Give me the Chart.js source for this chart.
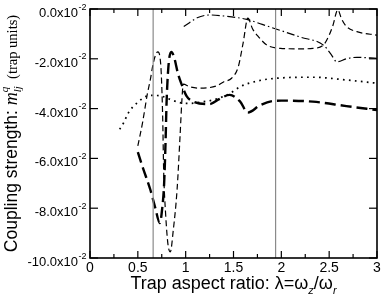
<!DOCTYPE html>
<html><head><meta charset="utf-8">
<script src="https://cdn.jsdelivr.net/npm/chart.js@4.4.1/dist/chart.umd.min.js"></script>
<style>html,body{margin:0;padding:0;background:#fff;}canvas{display:block;}</style>
</head><body>
<canvas id="c" width="382" height="299"></canvas>
<script>
// values are in units of 10^-2 (trap units)
const dottedLambda = [0.31,0.35,0.40,0.45,0.50,0.55,0.60,0.66,0.75,0.85,0.95,1.04,1.15,1.29,1.39,1.46,1.57,1.74,1.95,2.33,2.68,3.00];
const dottedValues = [-4.83,-4.58,-4.18,-3.92,-3.75,-3.59,-3.49,-3.47,-3.50,-3.65,-3.77,-3.79,-3.74,-3.65,-3.52,-3.40,-3.12,-2.90,-2.78,-2.74,-2.85,-2.98];

const longDashLambda = [0.50,0.55,0.63,0.68,0.73,0.755,0.775,0.79,0.80,0.82,0.85,0.88,0.92,0.96,1.01,1.08,1.25,1.35,1.46,1.57,1.65,1.78,1.92,2.00,2.33,2.68,3.00];
const longDashValues = [-5.75,-6.35,-7.25,-7.95,-8.60,-8.00,-7.00,-5.30,-3.80,-2.30,-1.72,-1.95,-2.60,-3.05,-3.50,-3.72,-3.82,-3.62,-3.45,-3.72,-4.16,-3.86,-3.69,-3.68,-3.72,-3.90,-4.06];

const dashedLambda = [0.50,0.55,0.60,0.63,0.66,0.69,0.71,0.73,0.745,0.76,0.77,0.79,0.815,0.84,0.87,0.91,0.94,0.96,0.975,1.04,1.15,1.32,1.40,1.48,1.55,1.60,1.65,1.70,1.76,1.85,1.99,2.20,2.33,2.44,2.50,2.54,2.59,2.63,2.68,2.79,3.00];
const dashedValues = [-5.50,-4.55,-3.40,-2.85,-2.20,-1.80,-1.72,-1.90,-2.60,-4.40,-6.50,-8.20,-9.45,-9.75,-8.90,-7.27,-5.20,-3.70,-3.02,-3.12,-3.18,-3.09,-2.92,-2.78,-2.32,-1.38,-0.37,-0.80,-1.11,-1.45,-1.58,-1.60,-1.58,-1.45,-1.05,-0.65,-0.03,-0.40,-0.70,-0.91,-1.05];

const dashDotLambda = [0.98,1.04,1.12,1.25,1.40,1.64,1.80,1.99,2.20,2.44,2.52,2.58,2.68,2.79,3.00];
const dashDotValues = [-0.70,-0.55,-0.35,-0.24,-0.28,-0.42,-0.62,-0.86,-1.13,-1.45,-1.82,-2.12,-2.00,-1.94,-1.98];

const markerLambdas = [0.66, 1.94];

const xTickValues = [0,0.5,1,1.5,2,2.5,3];
const xTickLabels = ['0','0.5','1','1.5','2','2.5','3'];
const xMinorStep = 0.25;
const yTickValues = [0,-2,-4,-6,-8,-10];
const yTickLabels = ['0.0','-2.0','-4.0','-6.0','-8.0','-10.0'];
const yTickExponent = '-2';

function pts(xs, ys){ return xs.map((x,i)=>({x:x, y:ys[i]})); }

const SANS = '"Liberation Sans", Arial, sans-serif';
const SERIF = '"Liberation Serif", "Times New Roman", serif';

const datasets = [];
markerLambdas.forEach(m => {
  datasets.push({data: pts([m,m],[0,-10]), borderColor:'#8a8a8a', borderWidth:1.2, tension:0});
});
datasets.push({data: pts(dottedLambda, dottedValues), borderColor:'#000', borderWidth:1.7, borderDash:[1.7,4.3], cubicInterpolationMode:'monotone'});
datasets.push({data: pts(dashDotLambda, dashDotValues), borderColor:'#000', borderWidth:1.2, borderDash:[8,3,1.5,3], cubicInterpolationMode:'monotone'});
datasets.push({data: pts(dashedLambda, dashedValues), borderColor:'#000', borderWidth:1.2, borderDash:[6,3.5], cubicInterpolationMode:'monotone'});
datasets.push({data: pts(longDashLambda, longDashValues), borderColor:'#000', borderWidth:2.4, borderDash:[11,5], cubicInterpolationMode:'monotone'});

function line(ctx,x1,y1,x2,y2){ctx.beginPath();ctx.moveTo(x1,y1);ctx.lineTo(x2,y2);ctx.stroke();}

function drawParts(ctx, parts, startX, baseY){
  let x = startX;
  parts.forEach(p => {
    if (p.stack) {
      let w = 0;
      p.stack.forEach(s => { ctx.font = s.font; ctx.fillText(s.t, x, baseY + s.dy); w = Math.max(w, ctx.measureText(s.t).width); });
      x += w;
    } else {
      ctx.font = p.font; ctx.fillText(p.t, x, baseY + (p.dy||0)); x += ctx.measureText(p.t).width;
    }
  });
}
function measureParts(ctx, parts){
  let w = 0;
  parts.forEach(p => {
    if (p.stack) { let m=0; p.stack.forEach(s=>{ctx.font=s.font; m=Math.max(m, ctx.measureText(s.t).width);}); w+=m; }
    else { ctx.font=p.font; w += ctx.measureText(p.t).width; }
  });
  return w;
}

const framePlugin = {
  id: 'frameAxes',
  afterDraw(chart){
    const ctx = chart.ctx, a = chart.chartArea, xs = chart.scales.x, ys = chart.scales.y;
    ctx.save();
    ctx.strokeStyle = '#000'; ctx.fillStyle = '#000';
    ctx.lineWidth = 1.2;
    const nMinor = Math.round((xs.max - xs.min)/xMinorStep);
    for (let i=0;i<=nMinor;i++){
      const v = xs.min + i*xMinorStep;
      const px = xs.getPixelForValue(v);
      const major = xTickValues.some(t => Math.abs(t - v) < 1e-9);
      const L = major ? 7 : 4;
      line(ctx, px, a.bottom, px, a.bottom - L);
      line(ctx, px, a.top, px, a.top + L);
    }
    yTickValues.forEach(v => {
      const py = ys.getPixelForValue(v);
      line(ctx, a.left, py, a.left + 8, py);
      line(ctx, a.right, py, a.right - 8, py);
    });
    ctx.lineWidth = 1.6;
    ctx.strokeRect(a.left, a.top, a.right - a.left, a.bottom - a.top);

    ctx.textBaseline = 'alphabetic';
    ctx.textAlign = 'center';
    ctx.font = '14px ' + SANS;
    xTickValues.forEach((v,i) => {
      ctx.fillText(xTickLabels[i], xs.getPixelForValue(v), a.bottom + 14);
    });
    ctx.textAlign = 'left';
    const rightEdge = a.left - 4;
    yTickValues.forEach((v,i) => {
      const py = ys.getPixelForValue(v);
      const main = yTickLabels[i] + 'x10';
      ctx.font = '9px ' + SANS; const sw = ctx.measureText(yTickExponent).width;
      ctx.font = '13px ' + SANS; const mw = ctx.measureText(main).width;
      const x0 = rightEdge - sw - mw;
      ctx.fillText(main, x0, py + 8);
      ctx.font = '9px ' + SANS;
      ctx.fillText(yTickExponent, x0 + mw + 0.5, py + 0.5);
    });

    const xParts = [
      {t:'Trap aspect ratio: \u03bb=\u03c9', font:'18px ' + SANS},
      {t:'z', font:'italic 11px ' + SANS, dy:5},
      {t:'/\u03c9', font:'18px ' + SANS},
      {t:'r', font:'italic 11px ' + SANS, dy:5}
    ];
    const xw = measureParts(ctx, xParts);
    drawParts(ctx, xParts, (a.left + a.right)/2 - xw/2, 289);

    const yParts = [
      {t:'Coupling strength: ', font:'17.5px ' + SANS},
      {t:'m', font:'italic 18px ' + SERIF},
      {stack:[{t:'q', font:'italic 11px ' + SERIF, dy:-9},{t:'lj', font:'italic 11px ' + SERIF, dy:4}]},
      {t:'  (trap units)', font:'14.5px ' + SERIF}
    ];
    const yw = measureParts(ctx, yParts);
    ctx.save();
    ctx.translate(17, (a.top + a.bottom)/2);
    ctx.rotate(-Math.PI/2);
    drawParts(ctx, yParts, -yw/2, 0);
    ctx.restore();
    ctx.restore();
  }
};

new Chart(document.getElementById('c'), {
  type: 'line',
  data: { datasets: datasets },
  options: {
    responsive: false,
    animation: false,
    devicePixelRatio: 1,
    layout: { padding: { left: 90, right: 5, top: 9, bottom: 41 } },
    elements: { point: { radius: 0, hoverRadius: 0 }, line: { fill: false } },
    plugins: { legend: { display: false }, tooltip: { enabled: false } },
    scales: {
      x: { type: 'linear', min: 0, max: 3, display: false },
      y: { type: 'linear', min: -10, max: 0, display: false }
    }
  },
  plugins: [framePlugin]
});
</script>
</body></html>
